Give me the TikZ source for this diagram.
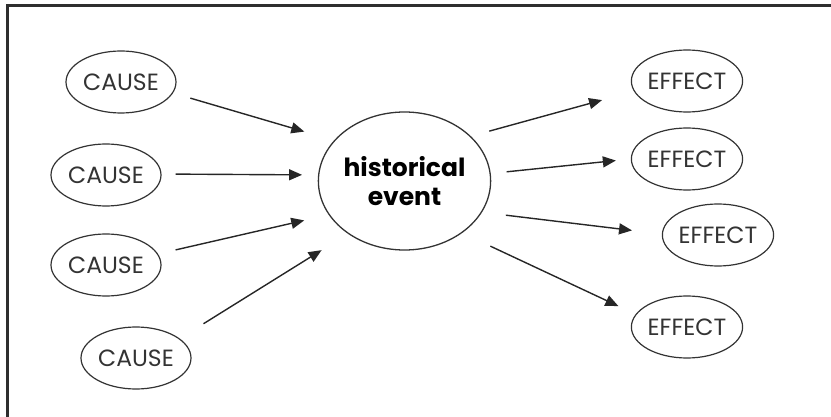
\documentclass[tikz,border=0pt]{standalone}
\usepackage{fontspec}
\setmainfont{Poppins}
\usepackage{tikz}
\usetikzlibrary{arrows.meta,shapes.geometric}
\definecolor{HInk}{HTML}{333333}
\definecolor{HFrame}{HTML}{2E2E2E}

\begin{document}
\begin{tikzpicture}[
  x=1pt,y=-1pt,
  every node/.style={font=\fontsize{23.5}{28}\selectfont,text=HInk},
  cause/.style={ellipse,draw=HInk,line width=1.2pt,inner sep=0pt,
    minimum width=110pt,minimum height=62pt},
  effect/.style={cause},
  event/.style={ellipse,draw=HInk,line width=1.3pt,inner sep=0pt,
    minimum width=155pt,minimum height=138pt,align=center,
    font=\fontsize{25}{29}\selectfont\bfseries,text=black},
  arr/.style={-{Triangle[length=13pt,width=11pt]},line width=1.4pt,color=black!85}
]
  \useasboundingbox (0,0) rectangle (831,417);
  \draw[HFrame,line width=3pt] (7,417) -- (7,6) -- (831,6);

  \node[event] (ev) at (404.5,181) {historical\\event};

  \node[cause] (c1) at (121,82) {CAUSE};
  \node[cause] (c2) at (106,175) {CAUSE};
  \node[cause] (c3) at (106,265) {CAUSE};
  \node[cause] (c4) at (136,358) {CAUSE};

  \node[effect] (e1) at (687,81) {EFFECT};
  \node[effect] (e2) at (687,159) {EFFECT};
  \node[effect] (e3) at (718,235) {EFFECT};
  \node[effect] (e4) at (687,327) {EFFECT};

  % causes into the event
  \draw[arr,shorten <=18pt,shorten >=31pt] (c1.-12) -- (ev.150);
  \draw[arr,shorten <=14pt,shorten >=16pt] (c2.1) -- (ev.176);
  \draw[arr,shorten <=18pt,shorten >=25pt] (c3.12) -- (ev.204);
  \draw[arr,shorten <=28pt,shorten >=31pt] (c4.24) -- (ev.223);

  % event out to the effects
  \draw[arr,shorten <=19pt,shorten >=33pt] (ev.34) -- (e1.191);
  \draw[arr,shorten <=16pt,shorten >=15pt] (ev.5) -- (e2.180);
  \draw[arr,shorten <=24pt,shorten >=30pt] (ev.-22) -- (e3.179);
  \draw[arr,shorten <=31pt,shorten >=19pt] (ev.-42) -- (e4.166);
\end{tikzpicture}
\end{document}
